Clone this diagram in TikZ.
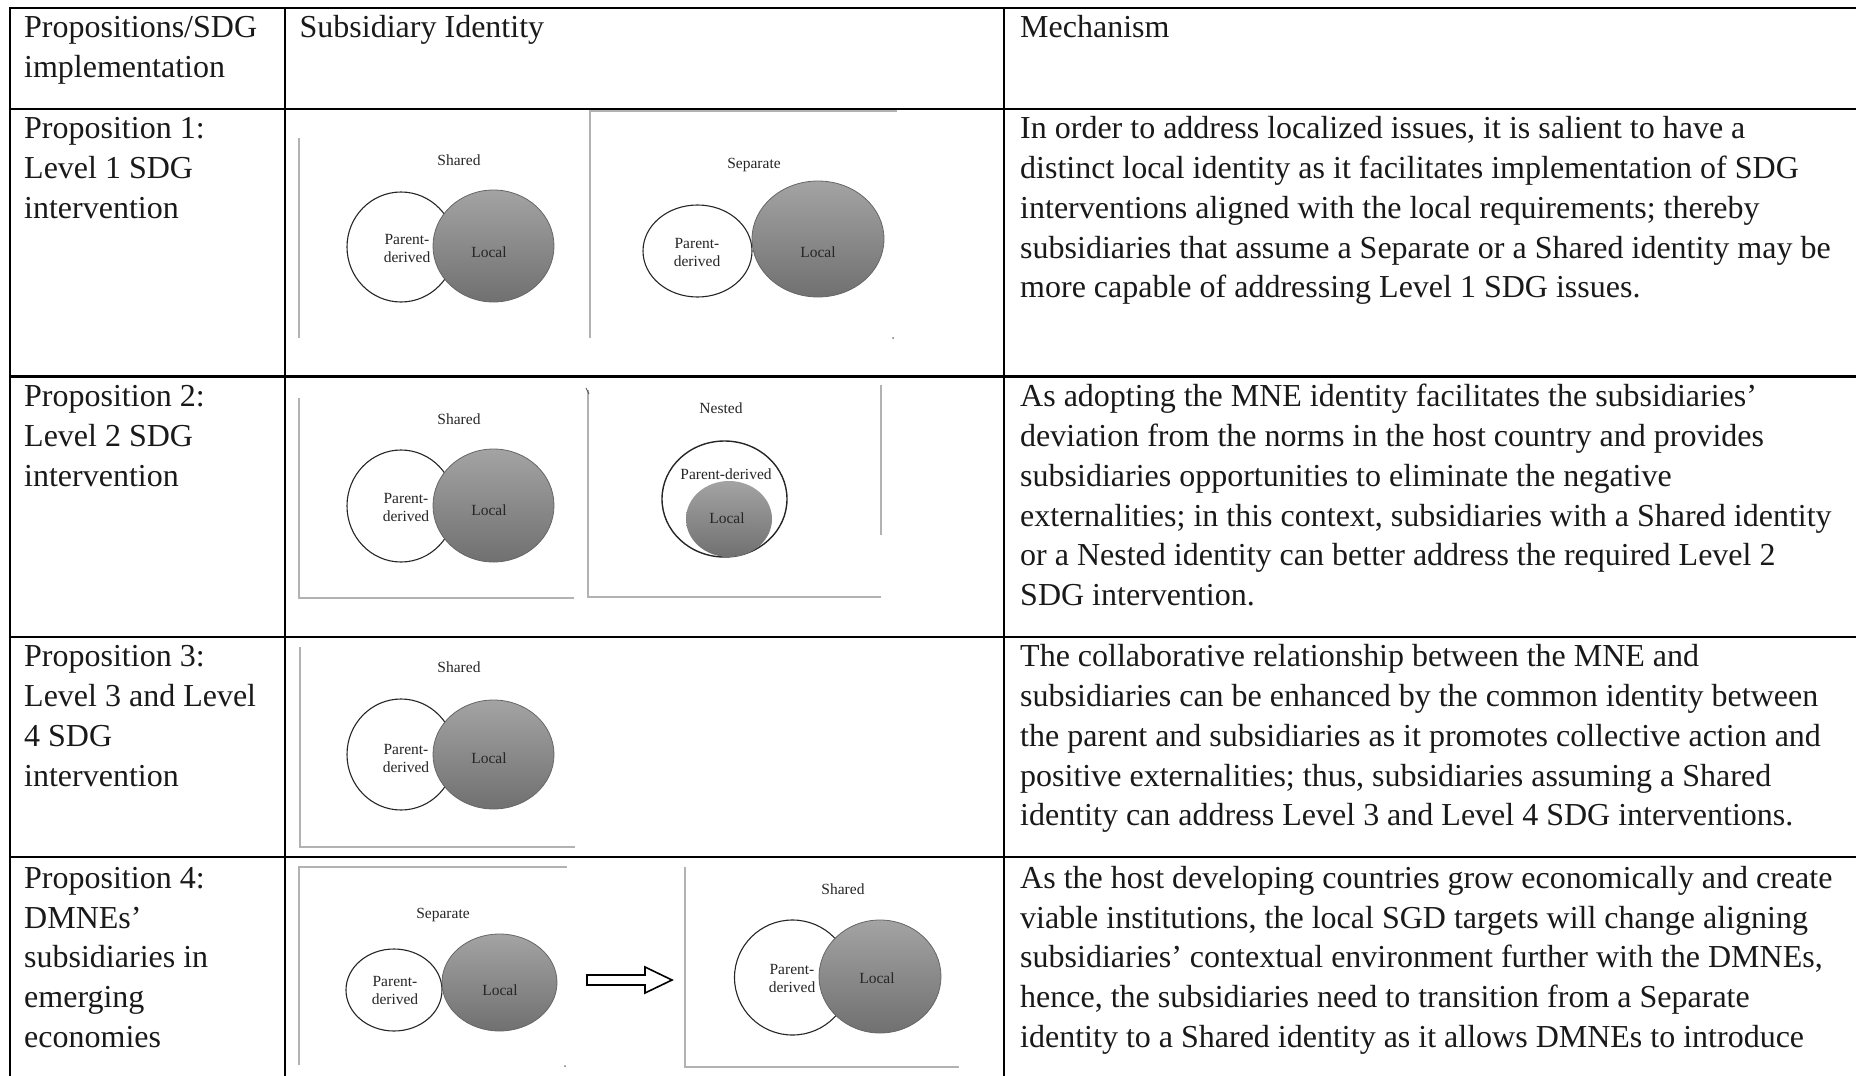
\documentclass[tikz,border=0pt]{standalone}
\usepackage{fontspec}
\setmainfont{Liberation Serif}
\usetikzlibrary{shapes.geometric}
\newcommand{\tabfont}{\fontsize{32}{39.7}\selectfont}
\newcommand{\vennfont}{\fontsize{15.5}{18}\selectfont}

\begin{document}
\begin{tikzpicture}[x = 1pt, y = -1pt,
    cell/.style = {anchor = north west, inner sep = 0pt, align = left, font = \tabfont, text = black!90},
    tabrule/.style = {line width = 2.6pt, black},
    imgframe/.style = {line width = 1.1pt, black!30},
    lbl/.style = {inner sep = 0pt, align = center, font = \vennfont, text = black!85},
    pdshape/.style = {shape = ellipse, draw = black!85, line width = 1.1pt, fill = white, inner sep = 0pt},
    locshape/.style = {shape = ellipse, draw = black!60, line width = 0.8pt, top color = black!36, bottom color = black!56, inner sep = 0pt}]
    \useasboundingbox (0,0) rectangle (1856,1076);

    % table rules
    \draw[tabrule] (1856,8) -- (10,8) -- (10,1076);
    \foreach \y in {109, 376.5, 637, 857}
        \draw[tabrule] (10,\y) -- (1856,\y);
    \foreach \x in {285, 1004}
        \draw[tabrule] (\x,8) -- (\x,1076);

    % headers
    \node[cell] (hdA) at (24,9.5) {\strut Propositions/SDG\\implementation};
    \node[cell] (hdB) at (299.5,9.5) {\strut Subsidiary Identity};
    \node[cell] (hdC) at (1020,9.5) {\strut Mechanism};

    % first column
    \node[cell] (prA) at (24,111) {\strut Proposition 1:\\Level 1 SDG\\intervention};
    \node[cell] (prB) at (24,379) {\strut Proposition 2:\\Level 2 SDG\\intervention};
    \node[cell] (prC) at (24,639) {\strut Proposition 3:\\Level 3 and Level\\4 SDG\\intervention};
    \node[cell] (prD) at (24,860.5) {\strut Proposition 4:\\DMNEs’\\subsidiaries in\\emerging\\economies};

    % mechanism column
    \node[cell] (meA) at (1020,111) {\strut In order to address localized issues, it is salient to have a\\distinct local identity as it facilitates implementation of SDG\\interventions aligned with the local requirements; thereby\\subsidiaries that assume a Separate or a Shared identity may be\\more capable of addressing Level 1 SDG issues.};
    \node[cell] (meB) at (1020,379) {\strut As adopting the MNE identity facilitates the subsidiaries’\\deviation from the norms in the host country and provides\\subsidiaries opportunities to eliminate the negative\\externalities; in this context, subsidiaries with a Shared identity\\or a Nested identity can better address the required Level 2\\SDG intervention.};
    \node[cell] (meC) at (1020,639) {\strut The collaborative relationship between the MNE and\\subsidiaries can be enhanced by the common identity between\\the parent and subsidiaries as it promotes collective action and\\positive externalities; thus, subsidiaries assuming a Shared\\identity can address Level 3 and Level 4 SDG interventions.};
    \node[cell] (meD) at (1020,860.5) {\strut As the host developing countries grow economically and create\\viable institutions, the local SGD targets will change aligning\\subsidiaries’ contextual environment further with the DMNEs,\\hence, the subsidiaries need to transition from a Separate\\identity to a Shared identity as it allows DMNEs to introduce};

    % picture frames
    \draw[imgframe] (299,138) -- (299,338);
    \draw[imgframe] (590,338) -- (590,111) -- (897,111);
    \draw[imgframe] (299,398) -- (299,598) -- (574,598);
    \draw[imgframe] (588,390) -- (588,597) -- (881,597);
    \draw[imgframe] (881,385) -- (881,535);
    \draw[imgframe] (300,647) -- (300,847) -- (575,847);
    \draw[imgframe] (567,867) -- (299,867) -- (299,1065);
    \draw[imgframe] (685,867) -- (685,1067) -- (959,1067);
    \fill[black!55] (893,338) circle (1pt);
    \fill[black!55] (565,1066) circle (1pt);
    \draw[black!70, line width = 0.8pt] (586,388) -- (589,394);

    % row 1: shared
    \node[pdshape, minimum width = 108pt, minimum height = 110pt] (pdA) at (401,247) {};
    \node[locshape, minimum width = 121pt, minimum height = 112pt] (loA) at (493.5,246) {};
    \node[lbl] (tiA) at (459,160) {Shared};
    \node[lbl] (pdtA) at (407,248) {Parent-\\derived};
    \node[lbl] (lotA) at (489,252) {Local};

    % row 1: separate
    \node[pdshape, minimum width = 109pt, minimum height = 92pt] (pdB) at (697.5,251) {};
    \node[locshape, minimum width = 132pt, minimum height = 116pt] (loB) at (818,239) {};
    \node[lbl] (tiB) at (754,165) {Separate};
    \node[lbl] (pdtB) at (697,252) {Parent-\\derived};
    \node[lbl] (lotB) at (818,252) {Local};

    % row 2: shared
    \node[pdshape, minimum width = 108pt, minimum height = 112pt] (pdC) at (401,506) {};
    \node[locshape, minimum width = 121pt, minimum height = 113pt] (loC) at (493.5,505.5) {};
    \node[lbl] (tiC) at (459,419) {Shared};
    \node[lbl] (pdtC) at (406,507) {Parent-\\derived};
    \node[lbl] (lotC) at (489,510) {Local};

    % row 2: nested
    \node[pdshape, line width = 1.4pt, minimum width = 125pt, minimum height = 116pt] (pdD) at (724.5,499) {};
    \node[locshape, draw = none, minimum width = 86pt, minimum height = 76pt] (loD) at (729,519) {};
    \node[lbl] (tiD) at (721,408) {Nested};
    \node[lbl] (pdtD) at (726,474) {Parent-derived};
    \node[lbl] (lotD) at (727,518) {Local};

    % row 3: shared
    \node[pdshape, minimum width = 108pt, minimum height = 111pt] (pdE) at (401,754.5) {};
    \node[locshape, minimum width = 121pt, minimum height = 109pt] (loE) at (493.5,754.5) {};
    \node[lbl] (tiE) at (459,667) {Shared};
    \node[lbl] (pdtE) at (406,758) {Parent-\\derived};
    \node[lbl] (lotE) at (489,758) {Local};

    % row 4: separate -> shared
    \node[pdshape, minimum width = 96pt, minimum height = 82pt] (pdF) at (394,990) {};
    \node[locshape, minimum width = 115pt, minimum height = 97pt] (loF) at (499.5,982.5) {};
    \node[lbl] (tiF) at (443,915) {Separate};
    \node[lbl] (pdtF) at (395,990) {Parent-\\derived};
    \node[lbl] (lotF) at (500,990) {Local};

    \draw[line width = 1.6pt, fill = white] (587,975) -- (645,975) -- (645,967) -- (672,980)
        -- (645,993) -- (645,985) -- (587,985) -- cycle;

    \node[pdshape, minimum width = 116pt, minimum height = 115pt] (pdG) at (792.5,977.5) {};
    \node[locshape, minimum width = 122pt, minimum height = 113pt] (loG) at (880,976.5) {};
    \node[lbl] (tiG) at (843,889) {Shared};
    \node[lbl] (pdtG) at (792,978) {Parent-\\derived};
    \node[lbl] (lotG) at (877,978) {Local};
\end{tikzpicture}
\end{document}
